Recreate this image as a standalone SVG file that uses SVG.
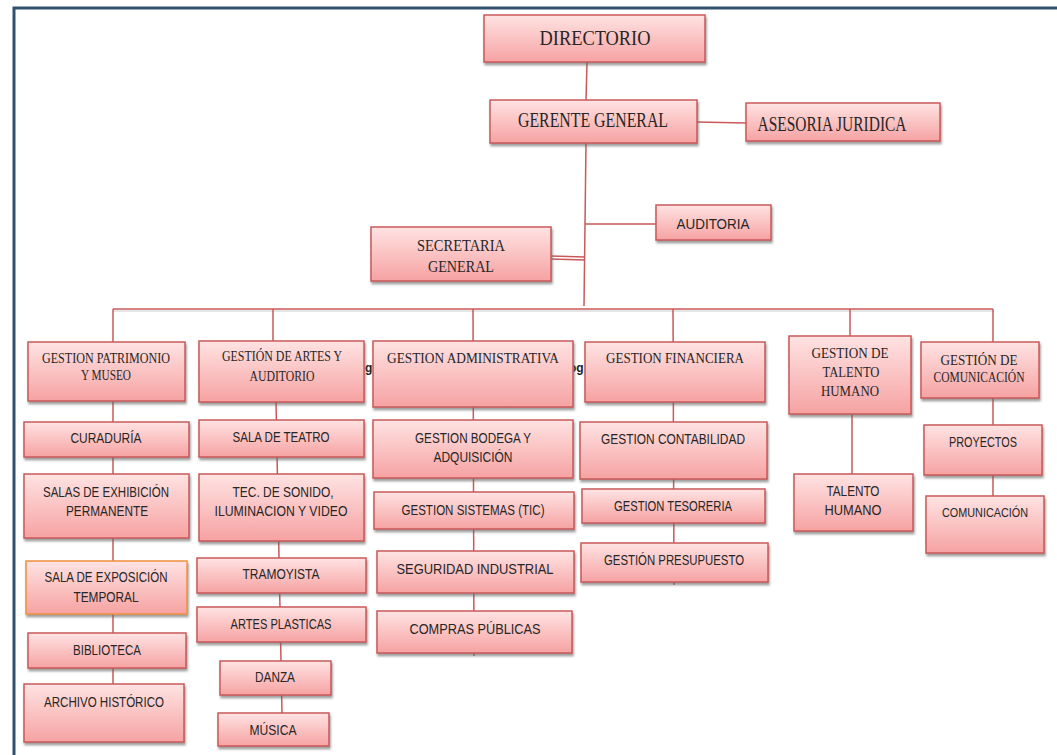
<svg xmlns="http://www.w3.org/2000/svg" width="1057" height="755" viewBox="0 0 1057 755">
<defs>
<linearGradient id="gr" x1="0" y1="0" x2="0" y2="1">
<stop offset="0" stop-color="#ffe3e3"/>
<stop offset="1" stop-color="#f6a2a2"/>
</linearGradient>
<filter id="sh" x="-10%" y="-10%" width="120%" height="130%">
<feDropShadow dx="1" dy="2.5" stdDeviation="1" flood-color="#666" flood-opacity="0.65"/>
</filter>
<style>
.b{fill:url(#gr);stroke:#c9595a;stroke-width:1.5;filter:url(#sh)}
.bo{fill:url(#gr);stroke:#f0903c;stroke-width:1.5;filter:url(#sh)}
.sf{font-family:"Liberation Serif","DejaVu Serif",serif;fill:#262626;text-anchor:middle}
.ss{font-family:"Liberation Sans","DejaVu Sans",sans-serif;fill:#262626;text-anchor:middle;font-size:14px}
.c{stroke:#c9595a;stroke-width:1.5;fill:none}
.st{font-family:"Liberation Sans",sans-serif;font-weight:bold;font-size:12px;fill:#222}
</style>
</defs>
<rect width="1057" height="755" fill="#fff"/>
<g id="frame">
<path d="M14,755 V8 H1057" fill="none" stroke="#34506f" stroke-width="3"/>
</g>
<g id="stray">
<text class="st" x="365" y="372">g</text>
<text class="st" x="569" y="372">og</text>
</g>
<g id="connectors">
<line class="c" x1="587" y1="62" x2="586" y2="100"/>
<line class="c" x1="697" y1="122" x2="746" y2="123"/>
<line class="c" x1="586" y1="143" x2="584" y2="306"/>
<line class="c" x1="585" y1="224" x2="656" y2="224"/>
<line class="c" x1="551" y1="256" x2="585" y2="257"/>
<line class="c" x1="551" y1="259" x2="585" y2="260" stroke-width="1"/>
<line class="c" x1="113" y1="309" x2="993" y2="309"/>
<line x1="113" y1="311" x2="993" y2="311" stroke="#ccc" stroke-width="1"/>
<line class="c" x1="113" y1="309" x2="113" y2="684"/>
<line class="c" x1="273" y1="309" x2="273" y2="341"/>
<line class="c" x1="276" y1="402" x2="282" y2="713"/>
<line class="c" x1="473" y1="309" x2="474" y2="656"/>
<line class="c" x1="673" y1="309" x2="674" y2="585"/>
<line class="c" x1="850" y1="309" x2="850" y2="336"/>
<line class="c" x1="852" y1="414" x2="852" y2="474"/>
<line class="c" x1="993" y1="309" x2="993" y2="342"/>
<line class="c" x1="993" y1="398" x2="993" y2="496"/>
</g>
<g id="n-directorio"><rect class="b" x="484" y="15" width="221" height="47"/><text class="sf" x="595" y="45" font-size="22" textLength="111" lengthAdjust="spacingAndGlyphs">DIRECTORIO</text></g>
<g id="n-gerente"><rect class="b" x="490" y="100" width="207" height="43"/><text class="sf" x="593" y="127" font-size="20" textLength="150" lengthAdjust="spacingAndGlyphs">GERENTE GENERAL</text></g>
<g id="n-asesoria"><rect class="b" x="746" y="103" width="194" height="38"/><text class="sf" x="832" y="131" font-size="20" textLength="149" lengthAdjust="spacingAndGlyphs">ASESORIA JURIDICA</text></g>
<g id="n-auditoria"><rect class="b" x="656" y="205" width="115" height="35"/><text class="ss" x="713" y="229" style="font-size:14.5px" textLength="73" lengthAdjust="spacingAndGlyphs">AUDITORIA</text></g>
<g id="n-secretaria"><rect class="b" x="371" y="227" width="180" height="54"/><text class="sf" x="461" y="251" font-size="17" textLength="88" lengthAdjust="spacingAndGlyphs">SECRETARIA</text><text class="sf" x="461" y="272" font-size="17" textLength="66" lengthAdjust="spacingAndGlyphs">GENERAL</text></g>

<g id="n-patrimonio"><rect class="b" x="28" y="342" width="157" height="59"/><text class="sf" x="106" y="363" font-size="15" textLength="128" lengthAdjust="spacingAndGlyphs">GESTION PATRIMONIO</text><text class="sf" x="106" y="380" font-size="15" textLength="50" lengthAdjust="spacingAndGlyphs">Y MUSEO</text></g>
<g id="n-curaduria"><rect class="b" x="24" y="422" width="165" height="35"/><text class="ss" x="106" y="443" textLength="71" lengthAdjust="spacingAndGlyphs">CURADURÍA</text></g>
<g id="n-salas"><rect class="b" x="24" y="474" width="165" height="64"/><text class="ss" x="106" y="497" textLength="126" lengthAdjust="spacingAndGlyphs">SALAS DE EXHIBICIÓN</text><text class="ss" x="107" y="516" textLength="82" lengthAdjust="spacingAndGlyphs">PERMANENTE</text></g>
<g id="n-expo"><rect class="bo" x="26" y="561" width="161" height="53"/><text class="ss" x="106" y="582" textLength="123" lengthAdjust="spacingAndGlyphs">SALA DE EXPOSICIÓN</text><text class="ss" x="106" y="602" textLength="65" lengthAdjust="spacingAndGlyphs">TEMPORAL</text></g>
<g id="n-biblioteca"><rect class="b" x="28" y="633" width="158" height="35"/><text class="ss" x="107" y="655" textLength="68" lengthAdjust="spacingAndGlyphs">BIBLIOTECA</text></g>
<g id="n-archivo"><rect class="b" x="24" y="684" width="160" height="58"/><text class="ss" x="104" y="707" textLength="120" lengthAdjust="spacingAndGlyphs">ARCHIVO HISTÓRICO</text></g>

<g id="n-artes"><rect class="b" x="199" y="341" width="165" height="61"/><text class="sf" x="282" y="361" font-size="15" textLength="120" lengthAdjust="spacingAndGlyphs">GESTIÓN DE ARTES Y</text><text class="sf" x="282" y="381" font-size="15" textLength="65" lengthAdjust="spacingAndGlyphs">AUDITORIO</text></g>
<g id="n-teatro"><rect class="b" x="199" y="420" width="165" height="37"/><text class="ss" x="281" y="442" textLength="97" lengthAdjust="spacingAndGlyphs">SALA DE TEATRO</text></g>
<g id="n-tec"><rect class="b" x="199" y="474" width="165" height="67"/><text class="ss" x="283" y="497" textLength="101" lengthAdjust="spacingAndGlyphs">TEC. DE SONIDO,</text><text class="ss" x="281" y="516" textLength="133" lengthAdjust="spacingAndGlyphs">ILUMINACION Y VIDEO</text></g>
<g id="n-tramoyista"><rect class="b" x="197" y="558" width="169" height="35"/><text class="ss" x="281" y="579" textLength="77" lengthAdjust="spacingAndGlyphs">TRAMOYISTA</text></g>
<g id="n-plasticas"><rect class="b" x="197" y="607" width="169" height="35"/><text class="ss" x="281" y="629" textLength="101" lengthAdjust="spacingAndGlyphs">ARTES PLASTICAS</text></g>
<g id="n-danza"><rect class="b" x="220" y="661" width="111" height="34"/><text class="ss" x="275" y="682" textLength="40" lengthAdjust="spacingAndGlyphs">DANZA</text></g>
<g id="n-musica"><rect class="b" x="218" y="713" width="111" height="33"/><text class="ss" x="273" y="735" textLength="47" lengthAdjust="spacingAndGlyphs">MÚSICA</text></g>

<g id="n-admin"><rect class="b" x="373" y="341" width="200" height="66"/><text class="sf" x="473" y="363" font-size="15" textLength="172" lengthAdjust="spacingAndGlyphs">GESTION ADMINISTRATIVA</text></g>
<g id="n-bodega"><rect class="b" x="373" y="420" width="200" height="58"/><text class="ss" x="473" y="443" textLength="116" lengthAdjust="spacingAndGlyphs">GESTION BODEGA Y</text><text class="ss" x="473" y="462" textLength="79" lengthAdjust="spacingAndGlyphs">ADQUISICIÓN</text></g>
<g id="n-sistemas"><rect class="b" x="374" y="492" width="200" height="37"/><text class="ss" x="473" y="515" textLength="143" lengthAdjust="spacingAndGlyphs">GESTION SISTEMAS (TIC)</text></g>
<g id="n-seguridad"><rect class="b" x="377" y="551" width="197" height="42"/><text class="ss" x="475" y="574" style="font-size:14.5px" textLength="157" lengthAdjust="spacingAndGlyphs">SEGURIDAD INDUSTRIAL</text></g>
<g id="n-compras"><rect class="b" x="377" y="611" width="195" height="42"/><text class="ss" x="475" y="634" style="font-size:14.5px" textLength="131" lengthAdjust="spacingAndGlyphs">COMPRAS PÚBLICAS</text></g>

<g id="n-financiera"><rect class="b" x="585" y="342" width="180" height="60"/><text class="sf" x="675" y="363" font-size="15" textLength="138" lengthAdjust="spacingAndGlyphs">GESTION FINANCIERA</text></g>
<g id="n-contabilidad"><rect class="b" x="580" y="422" width="187" height="57"/><text class="ss" x="673" y="444" textLength="144" lengthAdjust="spacingAndGlyphs">GESTION CONTABILIDAD</text></g>
<g id="n-tesoreria"><rect class="b" x="582" y="489" width="183" height="34"/><text class="ss" x="673" y="511" textLength="118" lengthAdjust="spacingAndGlyphs">GESTION TESORERIA</text></g>
<g id="n-presupuesto"><rect class="b" x="581" y="543" width="187" height="39"/><text class="ss" x="674" y="565" textLength="140" lengthAdjust="spacingAndGlyphs">GESTIÓN PRESUPUESTO</text></g>

<g id="n-talento-h"><rect class="b" x="789" y="336" width="122" height="78"/><text class="sf" x="850" y="358" font-size="15.5" textLength="77" lengthAdjust="spacingAndGlyphs">GESTION DE</text><text class="sf" x="851" y="377" font-size="15.5" textLength="57" lengthAdjust="spacingAndGlyphs">TALENTO</text><text class="sf" x="850" y="396" font-size="15.5" textLength="58" lengthAdjust="spacingAndGlyphs">HUMANO</text></g>
<g id="n-talento"><rect class="b" x="794" y="474" width="119" height="57"/><text class="ss" x="853" y="496" textLength="53" lengthAdjust="spacingAndGlyphs">TALENTO</text><text class="ss" x="853" y="515" textLength="57" lengthAdjust="spacingAndGlyphs">HUMANO</text></g>

<g id="n-comunicacion-h"><rect class="b" x="921" y="342" width="118" height="56"/><text class="sf" x="979" y="365" font-size="15.5" textLength="77" lengthAdjust="spacingAndGlyphs">GESTIÓN DE</text><text class="sf" x="979" y="382" font-size="14.5" textLength="91" lengthAdjust="spacingAndGlyphs">COMUNICACIÓN</text></g>
<g id="n-proyectos"><rect class="b" x="924" y="425" width="118" height="50"/><text class="ss" x="983" y="447" textLength="68" lengthAdjust="spacingAndGlyphs">PROYECTOS</text></g>
<g id="n-comunicacion"><rect class="b" x="926" y="496" width="118" height="57"/><text class="ss" x="985" y="517" style="font-size:13px" textLength="86" lengthAdjust="spacingAndGlyphs">COMUNICACIÓN</text></g>
</svg>
